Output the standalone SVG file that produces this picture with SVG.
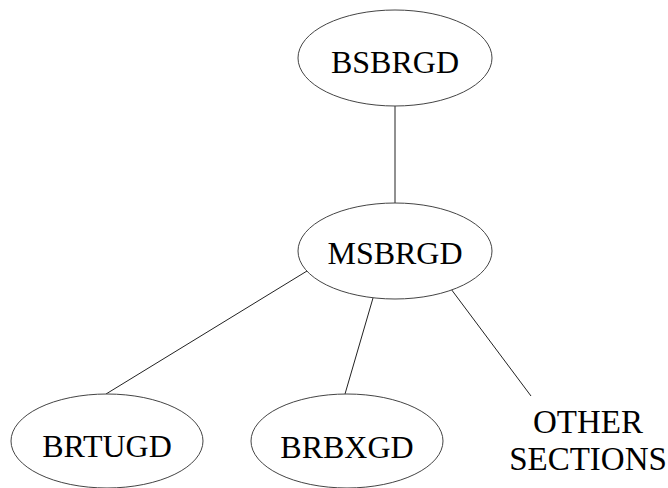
<svg xmlns="http://www.w3.org/2000/svg" width="668" height="488" viewBox="0 0 668 488">
<style>
.n{fill:#fff;stroke:#444;stroke-width:1}
.t{font-family:"Liberation Serif","Times New Roman",serif;font-size:32px;fill:#000;text-anchor:middle}
.o{font-size:33px}
.c{stroke:#222;stroke-width:1;fill:none}
</style>
<rect width="668" height="488" fill="#fff"/>
<g id="connectors">
<line class="c" x1="395" y1="106" x2="395" y2="203"/>
<line class="c" x1="307" y1="271" x2="106" y2="394"/>
<line class="c" x1="373" y1="298" x2="345" y2="394"/>
<line class="c" x1="451" y1="289" x2="531" y2="396"/>
</g>
<g id="BSBRGD"><ellipse class="n" cx="395" cy="58" rx="97" ry="48"/><text class="t" x="395" y="73">BSBRGD</text></g>
<g id="MSBRGD"><ellipse class="n" cx="395" cy="251" rx="97" ry="48"/><text class="t" x="395" y="264">MSBRGD</text></g>
<g id="BRTUGD"><ellipse class="n" cx="107" cy="441" rx="96" ry="47"/><text class="t" x="107" y="457">BRTUGD</text></g>
<g id="BRBXGD"><ellipse class="n" cx="347" cy="441" rx="96" ry="47"/><text class="t" x="347" y="458">BRBXGD</text></g>
<g id="OTHER"><text class="t o" x="588" y="433">OTHER</text><text class="t o" x="588" y="470">SECTIONS</text></g>
</svg>
